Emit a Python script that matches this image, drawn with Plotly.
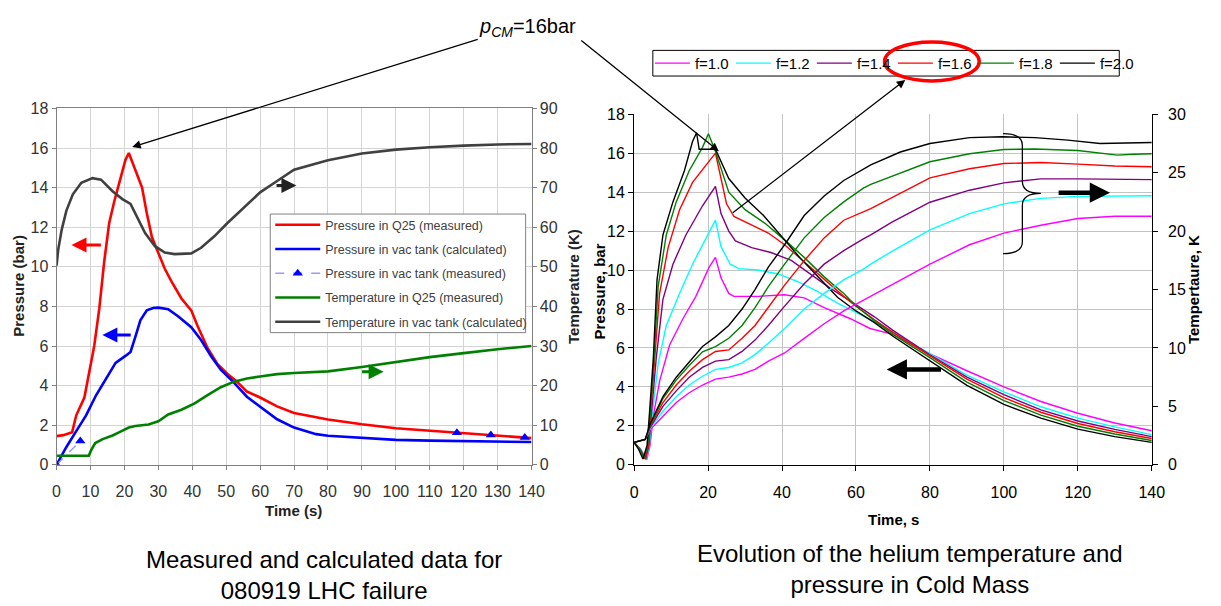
import plotly.graph_objects as go

W, H = 1221, 606
FONT = "Arial, Liberation Sans, sans-serif"

# ---------------- Left chart data (080919 LHC failure) ----------------
t_q25_p = [0, 2, 4.6, 5.8, 8.2, 9.7, 11.1, 12.6, 14, 15.5, 17, 18.9, 20.3, 21.3, 22.7, 25.2, 26.6, 28.1, 30, 31.9,
           33.9, 36.8, 39.7, 41.6, 44.5, 47.4, 50.3, 53.2, 56.1, 60, 65, 70, 80, 90, 100, 110, 120, 130, 140]
p_q25 = [1.45, 1.5, 1.65, 2.5, 3.4, 4.7, 6.0, 7.9, 10.2, 12.2, 13.3, 14.5, 15.4, 15.75, 15.1, 14.0, 12.7, 11.5, 10.7, 9.9,
         9.25, 8.4, 7.8, 7.0, 5.9, 5.1, 4.6, 4.2, 3.7, 3.4, 2.95, 2.62, 2.29, 2.05, 1.85, 1.72, 1.6, 1.45, 1.35]

t_vac_p = [0, 2.9, 5.8, 8.7, 11.6, 14.5, 17.4, 20.3, 21.8, 23.2, 24.7, 26.6, 28.5, 30, 32.9, 35.8, 39.7, 42.6, 45.5,
           48.4, 52.3, 56.1, 60, 65, 70, 76.5, 80, 90, 100, 110, 120, 130, 140]
p_vac = [0, 0.9, 1.7, 2.5, 3.5, 4.3, 5.15, 5.5, 5.7, 6.45, 7.3, 7.8, 7.92, 7.94, 7.86, 7.5, 6.95, 6.3, 5.5,
         4.8, 4.15, 3.44, 2.95, 2.3, 1.88, 1.55, 1.47, 1.36, 1.26, 1.22, 1.2, 1.17, 1.15]

t_vac_meas = [0, 7, None, 118, None, 128, None, 138]
p_vac_meas = [0, 1.2, None, 1.62, None, 1.5, None, 1.38]

t_q25_T = [0, 9.5, 10.2, 11.4, 13.6, 16.5, 18.4, 21.3, 23.2, 27.1, 30, 32.9, 36.8, 40.7, 44.5, 48.4, 52.3, 56.1, 60,
           65, 70, 80, 90, 100, 110, 120, 130, 140]
T_q25 = [2.3, 2.3, 3.7, 5.5, 6.5, 7.4, 8.2, 9.4, 9.8, 10.2, 11, 12.7, 13.9, 15.5, 17.6, 19.6, 21, 21.8, 22.3,
         22.9, 23.2, 23.6, 24.7, 26, 27.2, 28.2, 29.2, 30]

t_vac_T = [0, 0.5, 1.5, 2.9, 4.8, 7.3, 10.6, 13.1, 16.5, 19.4, 21.8, 23.7, 26.1, 29, 31.9, 34.8, 39.7, 42.6, 46.5,
           50.3, 54.2, 58.1, 60, 64.9, 70, 80, 90, 100, 110, 120, 130, 140]
T_vac = [50.3, 54.4, 59.3, 64.2, 68.3, 71.2, 72.4, 72, 69.1, 67.1, 65.9, 62.6, 58.5, 55.2, 53.6, 53.2, 53.4, 54.8, 57.7,
         61, 64.2, 67.5, 68.8, 71.6, 74.5, 76.9, 78.6, 79.6, 80.2, 80.6, 80.9, 81]

left_names = ["Pressure in Q25 (measured)", "Pressure in vac tank (calculated)", "Pressure in vac tank (measured)",
              "Temperature in Q25 (measured)", "Temperature in vac tank (calculated)"]

# ---------------- Right chart data (Cold Mass, factor f) ----------------
f_labels = ["f=1.0", "f=1.2", "f=1.4", "f=1.6", "f=1.8", "f=2.0"]
f_colors = ["#FF00FF", "#00FFFF", "#800080", "#FF0000", "#008000", "#000000"]

tp_10 = [0, 1.8, 3.4, 4.3, 5.2, 6.9, 9.6, 13.2, 16.7, 20.3, 22, 23.5, 25.6, 27, 33.6, 40.7, 46, 51.4, 58.5, 63.8, 70,
         80, 90, 100, 110, 120, 130, 140]
p_10 = [1.15, 0.8, 0.25, 1.0, 2.5, 4.3, 6.15, 7.5, 8.65, 10.15, 10.65, 9.6, 8.8, 8.65, 8.65, 8.73, 8.57, 8.07, 7.5, 7.0,
        6.7, 5.7, 4.83, 4.0, 3.25, 2.65, 2.15, 1.75]
tp_12 = [0, 1.7, 3.3, 4.1, 4.7, 6.5, 8.7, 12.3, 15.8, 19.4, 22, 23.5, 26, 28.3, 33.6, 39, 44.3, 49.6, 55, 60.3, 65, 70,
         80, 90, 100, 110, 120, 130, 140]
p_12 = [1.15, 0.8, 0.28, 1.0, 2.2, 5.2, 7.15, 8.8, 10.3, 11.65, 12.56, 11.2, 10.3, 10.07, 10.0, 9.8, 9.4, 8.9, 8.3, 7.8,
        7.35, 6.8, 5.7, 4.6, 3.75, 2.98, 2.4, 1.95, 1.55]
tp_14 = [0, 1.6, 3.1, 4.0, 4.7, 6, 7.8, 10.5, 14, 18.5, 22, 23.5, 25.6, 27.4, 31.8, 37, 42.5, 47.8, 53, 58.5, 65, 70,
         80, 90, 100, 110, 120, 130, 140]
p_14 = [1.15, 0.8, 0.3, 1.0, 2.66, 5.5, 8.5, 10.3, 11.8, 13.3, 14.3, 12.9, 12.0, 11.5, 11.15, 10.9, 10.5, 9.8, 9.07,
        8.4, 7.6, 6.9, 5.65, 4.5, 3.6, 2.82, 2.25, 1.82, 1.45]
tp_16 = [0, 1.5, 2.9, 3.9, 4.4, 5.6, 6.9, 9.2, 12.3, 15.8, 19.4, 22, 23.5, 25, 27, 31.8, 36.3, 40.7, 44.3, 47.8, 51.4,
         56.7, 60, 65, 70, 80, 90, 100, 110, 120, 130, 140]
p_16 = [1.15, 0.8, 0.3, 1.0, 2.5, 5.5, 8.8, 11.15, 13.1, 14.5, 15.4, 16.0, 14.7, 13.4, 12.75, 12.3, 11.9, 11.3, 10.7,
        10.15, 9.5, 8.65, 8.15, 7.45, 6.8, 5.6, 4.4, 3.45, 2.7, 2.12, 1.7, 1.35]
tp_18 = [0, 1.5, 2.7, 3.7, 4.3, 5.4, 6.5, 8.7, 11.4, 14.9, 18.5, 20.1, 22, 25.6, 30, 35.4, 40.7, 46, 51.4, 56.7, 60,
         65, 70, 80, 90, 100, 110, 120, 130, 140]
p_18 = [1.15, 0.8, 0.35, 1.0, 2.5, 5.5, 9.15, 11.8, 13.5, 15.1, 16.3, 17.0, 16.1, 14.0, 13.1, 12.4, 11.55, 10.65, 9.65,
        8.8, 8.15, 7.4, 6.7, 5.5, 4.25, 3.3, 2.55, 1.98, 1.58, 1.25]
tp_20 = [0, 1.2, 2.4, 3.5, 4.1, 5.2, 6.2, 7.8, 10.5, 13.6, 15.8, 16.9, 17.6, 22, 25.6, 30, 35, 40, 45, 50, 55, 60, 65,
         70, 80, 90, 100, 110, 120, 130, 140]
p_20 = [1.15, 0.8, 0.3, 1.0, 2.5, 5.5, 9.5, 11.8, 13.5, 15.1, 16.6, 17.05, 16.2, 16.2, 14.7, 13.7, 12.8, 11.7, 10.6,
        9.6, 8.6, 7.9, 7.3, 6.6, 5.35, 4.08, 3.1, 2.4, 1.83, 1.45, 1.15]

tT_10 = [0, 3, 4.3, 7.8, 11.4, 14.9, 18.5, 22, 25.6, 29.2, 32.7, 36.3, 40.7, 46, 51.4, 56.7, 62, 64, 80, 90.7, 100,
         110, 120, 130, 140]
T_10 = [1.92, 2.17, 3.0, 4.17, 5.33, 6.17, 6.83, 7.33, 7.5, 7.77, 8.17, 8.87, 9.57, 10.82, 12.07, 13.17, 14.08, 14.42,
        17.17, 18.83, 19.83, 20.5, 21.08, 21.27, 21.27]
tT_12 = [0, 3, 4.3, 7.8, 11.4, 14.9, 18.5, 22, 25.6, 29.2, 32.7, 36.3, 40.7, 46, 51.4, 56.7, 62, 64, 69.6, 80, 90.7,
         100, 110, 120, 140]
T_12 = [1.92, 2.17, 3.08, 4.58, 5.83, 6.83, 7.58, 8.17, 8.33, 8.73, 9.43, 10.4, 11.67, 13.33, 14.67, 15.83, 16.75,
        17.17, 18.25, 20.1, 21.5, 22.33, 22.8, 22.97, 23.02]
tT_14 = [0, 3, 4.3, 7.8, 11.4, 14.9, 18.5, 22, 25.6, 29.2, 32.7, 36.3, 40.7, 46, 51.4, 56.7, 62, 64, 69.6, 80, 90.7,
         100, 110, 120, 140]
T_14 = [1.92, 2.17, 3.17, 5.0, 6.33, 7.5, 8.33, 8.87, 9.0, 9.7, 10.67, 11.92, 13.58, 15.5, 17.17, 18.33, 19.33, 19.67,
        20.75, 22.47, 23.5, 24.13, 24.47, 24.47, 24.4]
tT_16 = [0, 3, 4.3, 7.8, 11.4, 14.9, 18.5, 22, 25.6, 29.2, 32.7, 36.3, 40.7, 46, 51.4, 56.7, 62, 64, 80, 90.7, 100,
         110, 120, 130, 140]
T_16 = [1.92, 2.17, 3.25, 5.33, 6.83, 8.0, 9.0, 9.7, 9.83, 10.83, 11.92, 13.45, 15.38, 17.47, 19.42, 20.93, 21.67,
        21.92, 24.55, 25.33, 25.78, 25.87, 25.73, 25.57, 25.5]
tT_18 = [0, 3, 4.3, 7.8, 11.4, 14.9, 18.5, 22, 25.6, 29.2, 32.7, 36.3, 40.7, 46, 51.4, 56.7, 62, 64, 80, 90.7, 100,
         108.4, 120, 130.7, 135, 140]
T_18 = [1.92, 2.17, 3.33, 5.67, 7.25, 8.5, 9.67, 10.12, 10.83, 11.92, 13.45, 15.25, 17.17, 19.42, 21.17, 22.5, 23.67,
        24.0, 25.93, 26.62, 26.98, 27.03, 26.9, 26.5, 26.58, 26.62]
tT_20 = [0, 3, 4.3, 7.8, 11.4, 14.9, 18.5, 22, 25.6, 29.2, 32.7, 36.3, 40.7, 46, 51.4, 56.7, 62, 64, 72, 80, 90.7, 99.6,
         108.4, 117.3, 126, 140]
T_20 = [1.92, 2.17, 3.47, 5.83, 7.5, 8.83, 10.12, 10.95, 11.92, 13.33, 15.0, 16.92, 18.83, 21.33, 23.0, 24.33, 25.33,
        25.67, 26.77, 27.5, 28.0, 28.07, 28.0, 27.78, 27.5, 27.58]

p_series = [(tp_10, p_10), (tp_12, p_12), (tp_14, p_14), (tp_16, p_16), (tp_18, p_18), (tp_20, p_20)]
T_series = [(tT_10, T_10), (tT_12, T_12), (tT_14, T_14), (tT_16, T_16), (tT_18, T_18), (tT_20, T_20)]

fig = go.Figure()

# ---- left chart traces ----
fig.add_trace(go.Scatter(x=t_q25_p, y=p_q25, mode="lines", name=left_names[0], legendgroup="a",
                         line=dict(color="#FF0000", width=2.6), xaxis="x", yaxis="y", legend="legend"))
fig.add_trace(go.Scatter(x=t_vac_p, y=p_vac, mode="lines", name=left_names[1], legendgroup="b",
                         line=dict(color="#0000FF", width=2.6), xaxis="x", yaxis="y", legend="legend"))
fig.add_trace(go.Scatter(x=t_vac_meas, y=p_vac_meas, mode="lines+markers", name=left_names[2], legendgroup="c",
                         connectgaps=False,
                         line=dict(color="#9999FF", width=1.5, dash="dash"),
                         marker=dict(symbol="triangle-up", size=9, color="#0000FF"),
                         xaxis="x", yaxis="y", legend="legend"))
fig.add_trace(go.Scatter(x=t_q25_T, y=T_q25, mode="lines", name=left_names[3], legendgroup="d",
                         line=dict(color="#008000", width=2.6), xaxis="x", yaxis="y2", legend="legend"))
fig.add_trace(go.Scatter(x=t_vac_T, y=T_vac, mode="lines", name=left_names[4], legendgroup="e",
                         line=dict(color="#404040", width=2.6), xaxis="x", yaxis="y2", legend="legend"))

# ---- right chart traces ----
for i in range(6):
    tx, ty = T_series[i]
    fig.add_trace(go.Scatter(x=tx, y=ty, mode="lines", name=f_labels[i], showlegend=False,
                             line=dict(color=f_colors[i], width=1.4), xaxis="x2", yaxis="y4"))
for i in range(6):
    px, py = p_series[i]
    fig.add_trace(go.Scatter(x=px, y=py, mode="lines", name=f_labels[i], legend="legend2",
                             line=dict(color=f_colors[i], width=1.4), xaxis="x2", yaxis="y3"))


def dom_x(a, b):
    return [a / W, b / W]


def dom_y(top, bottom):
    return [1 - bottom / H, 1 - top / H]


def px_x(v):
    return v / W


def px_y(v):
    return 1 - v / H


LG = "#808080"
left_tick = dict(family=FONT, size=16, color="#333333")
right_tick = dict(family=FONT, size=16, color="black")

fig.update_layout(
    width=W, height=H, margin=dict(l=0, r=0, t=0, b=0),
    paper_bgcolor="white", plot_bgcolor="white",
    font=dict(family=FONT, color="black"),
    xaxis=dict(domain=dom_x(53.3, 535), range=[0, 140], dtick=10, tick0=0, anchor="y",
               showgrid=True, gridcolor="#d4d4d4", gridwidth=1, zeroline=False,
               showline=True, linecolor=LG, linewidth=1, mirror=True,
               ticks="outside", ticklen=4, tickcolor=LG, tickfont=left_tick, ticklabelstandoff=8),
    yaxis=dict(domain=dom_y(103.3, 470), range=[0, 18], dtick=2, anchor="x",
               showgrid=True, gridcolor="#d4d4d4", gridwidth=1, zeroline=False,
               showline=True, linecolor=LG, linewidth=1, mirror=True,
               ticks="outside", ticklen=4, tickcolor=LG, tickfont=left_tick),
    yaxis2=dict(overlaying="y", side="right", anchor="x", range=[0, 90], dtick=10,
                showgrid=False, zeroline=False, showline=True, linecolor=LG, linewidth=1,
                ticks="outside", ticklen=4, tickcolor=LG, tickfont=left_tick),
    xaxis2=dict(domain=dom_x(639, 1164), range=[0, 140], dtick=20, tick0=0, anchor="y3",
                showgrid=True, gridcolor="#c4c4c4", gridwidth=1, zeroline=False,
                showline=True, linecolor="black", linewidth=1, mirror=False,
                ticks="outside", ticklen=5, tickcolor="black", tickfont=right_tick, ticklabelstandoff=8),
    yaxis3=dict(domain=dom_y(109.3, 470), range=[0, 18], dtick=2, anchor="x2",
                showgrid=True, gridcolor="#c4c4c4", gridwidth=1, zeroline=False,
                showline=True, linecolor="black", linewidth=1,
                ticks="outside", ticklen=5, tickcolor="black", tickfont=right_tick, ticklabelstandoff=0),
    yaxis4=dict(overlaying="y3", side="right", anchor="x2", range=[0, 30], dtick=5,
                showgrid=False, zeroline=False, showline=True, linecolor="black", linewidth=1,
                ticks="outside", ticklen=5, tickcolor="black", tickfont=right_tick, ticklabelstandoff=7),
    legend=dict(x=px_x(270), y=px_y(208), xanchor="left", yanchor="top",
                bgcolor="rgba(0,0,0,0)", borderwidth=0,
                font=dict(family=FONT, size=12.5, color="#404040"),
                itemwidth=45, tracegroupgap=5, traceorder="grouped"),
    legend2=dict(orientation="h", x=px_x(655), y=px_y(40), xanchor="left", yanchor="top",
                 bgcolor="rgba(0,0,0,0)", borderwidth=0,
                 font=dict(family=FONT, size=15, color="black"),
                 itemwidth=35, entrywidth=31, entrywidthmode="pixels"),
    showlegend=True,
)

arrow_common = dict(text="", showarrow=True, arrowcolor="black")
title_font_l = dict(family=FONT, size=15, color="#222222")
title_font_r = dict(family=FONT, size=15, color="black")
annotations = [
    # axis titles
    dict(xref="paper", yref="paper", x=px_x(15), y=px_y(286), text="<b>Pressure (bar)</b>", textangle=-90,
         showarrow=False, xanchor="center", yanchor="middle", font=title_font_l),
    dict(xref="paper", yref="paper", x=px_x(578), y=px_y(286), text="<b>Temperature (K)</b>", textangle=-90,
         showarrow=False, xanchor="center", yanchor="middle", font=title_font_l),
    dict(xref="paper", yref="paper", x=px_x(294), y=px_y(517), text="<b>Time (s)</b>",
         showarrow=False, xanchor="center", yanchor="middle", font=title_font_l),
    dict(xref="paper", yref="paper", x=px_x(604), y=px_y(292), text="<b>Pressure, bar</b>", textangle=-90,
         showarrow=False, xanchor="center", yanchor="middle", font=title_font_r),
    dict(xref="paper", yref="paper", x=px_x(1207), y=px_y(290), text="<b>Tempertaure, K</b>", textangle=-90,
         showarrow=False, xanchor="center", yanchor="middle", font=title_font_r),
    dict(xref="paper", yref="paper", x=px_x(902), y=px_y(526), text="<b>Time, s</b>",
         showarrow=False, xanchor="center", yanchor="middle", font=title_font_r),
    # label with arrows
    dict(xref="paper", yref="paper", x=px_x(531), y=px_y(20), text="<i>p<sub>CM</sub></i>=16bar",
         showarrow=False, xanchor="center", yanchor="middle", font=dict(family=FONT, size=20, color="black")),
    dict(xref="x", yref="y", x=22.3, y=16.05, ax=347, ay=-108, axref="pixel", ayref="pixel",
         arrowhead=2, arrowsize=1.3, arrowwidth=1.3, **arrow_common),
    dict(xref="x2", yref="y3", x=22.9, y=16.1, ax=-139, ay=-112,
         arrowhead=2, arrowsize=1.3, arrowwidth=1.3, **arrow_common),
    dict(xref="paper", yref="paper", x=px_x(914), y=px_y(74), ax=-174, ay=134,
         arrowhead=2, arrowsize=1.3, arrowwidth=1.3, **arrow_common),
    # left chart coloured direction arrows
    dict(xref="x", yref="y", x=4.4, y=11.1, ax=13.5, ay=11.1, axref="x", ayref="y",
         text="", showarrow=True, arrowcolor="#FF0000", arrowhead=2, arrowsize=1, arrowwidth=3),
    dict(xref="x", yref="y", x=13.5, y=6.55, ax=22.3, ay=6.55, axref="x", ayref="y",
         text="", showarrow=True, arrowcolor="#0000FF", arrowhead=2, arrowsize=1, arrowwidth=3),
    dict(xref="x", yref="y2", x=70.7, y=70.5, ax=64.4, ay=70.5, axref="x", ayref="y2",
         text="", showarrow=True, arrowcolor="#222222", arrowhead=2, arrowsize=1, arrowwidth=3),
    dict(xref="x", yref="y2", x=96.4, y=23.5, ax=89.6, ay=23.5, axref="x", ayref="y2",
         text="", showarrow=True, arrowcolor="#008000", arrowhead=2, arrowsize=1, arrowwidth=3),
    # right chart thick arrows
    dict(xref="x2", yref="y3", x=128.7, y=13.97, ax=114.4, ay=13.97, axref="x2", ayref="y3",
         text="", showarrow=True, arrowcolor="black", arrowhead=2, arrowsize=0.9, arrowwidth=4.5),
    dict(xref="x2", yref="y3", x=68.3, y=4.9, ax=83.4, ay=4.9, axref="x2", ayref="y3",
         text="", showarrow=True, arrowcolor="black", arrowhead=2, arrowsize=0.9, arrowwidth=4.5),
    # captions
    dict(xref="paper", yref="paper", x=px_x(325), y=px_y(583), showarrow=False,
         xanchor="center", yanchor="middle",
         text="Measured and calculated data for<br>080919 LHC failure",
         font=dict(family=FONT, size=24, color="black"), align="center"),
    dict(xref="paper", yref="paper", x=px_x(919), y=px_y(577), showarrow=False,
         xanchor="center", yanchor="middle",
         text="Evolution of the helium temperature and<br>pressure in Cold Mass",
         font=dict(family=FONT, size=24, color="black"), align="center"),
]
fig.update_layout(annotations=annotations)

shapes = [
    # left legend frame
    dict(type="rect", xref="paper", yref="paper", x0=px_x(270), x1=px_x(529), y0=px_y(334), y1=px_y(212),
         line=dict(color=LG, width=1), fillcolor="white", layer="above"),
    # right legend frame
    dict(type="rect", xref="paper", yref="paper", x0=px_x(658), x1=px_x(1131), y0=px_y(70), y1=px_y(43.6),
         line=dict(color="black", width=1), fillcolor="white", layer="above"),
    dict(type="circle", xref="paper", yref="paper", x0=px_x(893), x1=px_x(989), y0=px_y(75), y1=px_y(35),
         line=dict(color="#FF0000", width=3.5), layer="above"),
    dict(type="path", xref="x2", yref="y3", layer="above",
         path="M 99.8,17.0 Q 105,17.0 105,16.4 L 105,14.55 Q 105,13.94 110,13.94 "
              "Q 105,13.94 105,13.33 L 105,11.45 Q 105,10.84 99.8,10.84",
         line=dict(color="black", width=1.3)),
]
fig.update_layout(shapes=shapes)

fig.write_html("out.html")
